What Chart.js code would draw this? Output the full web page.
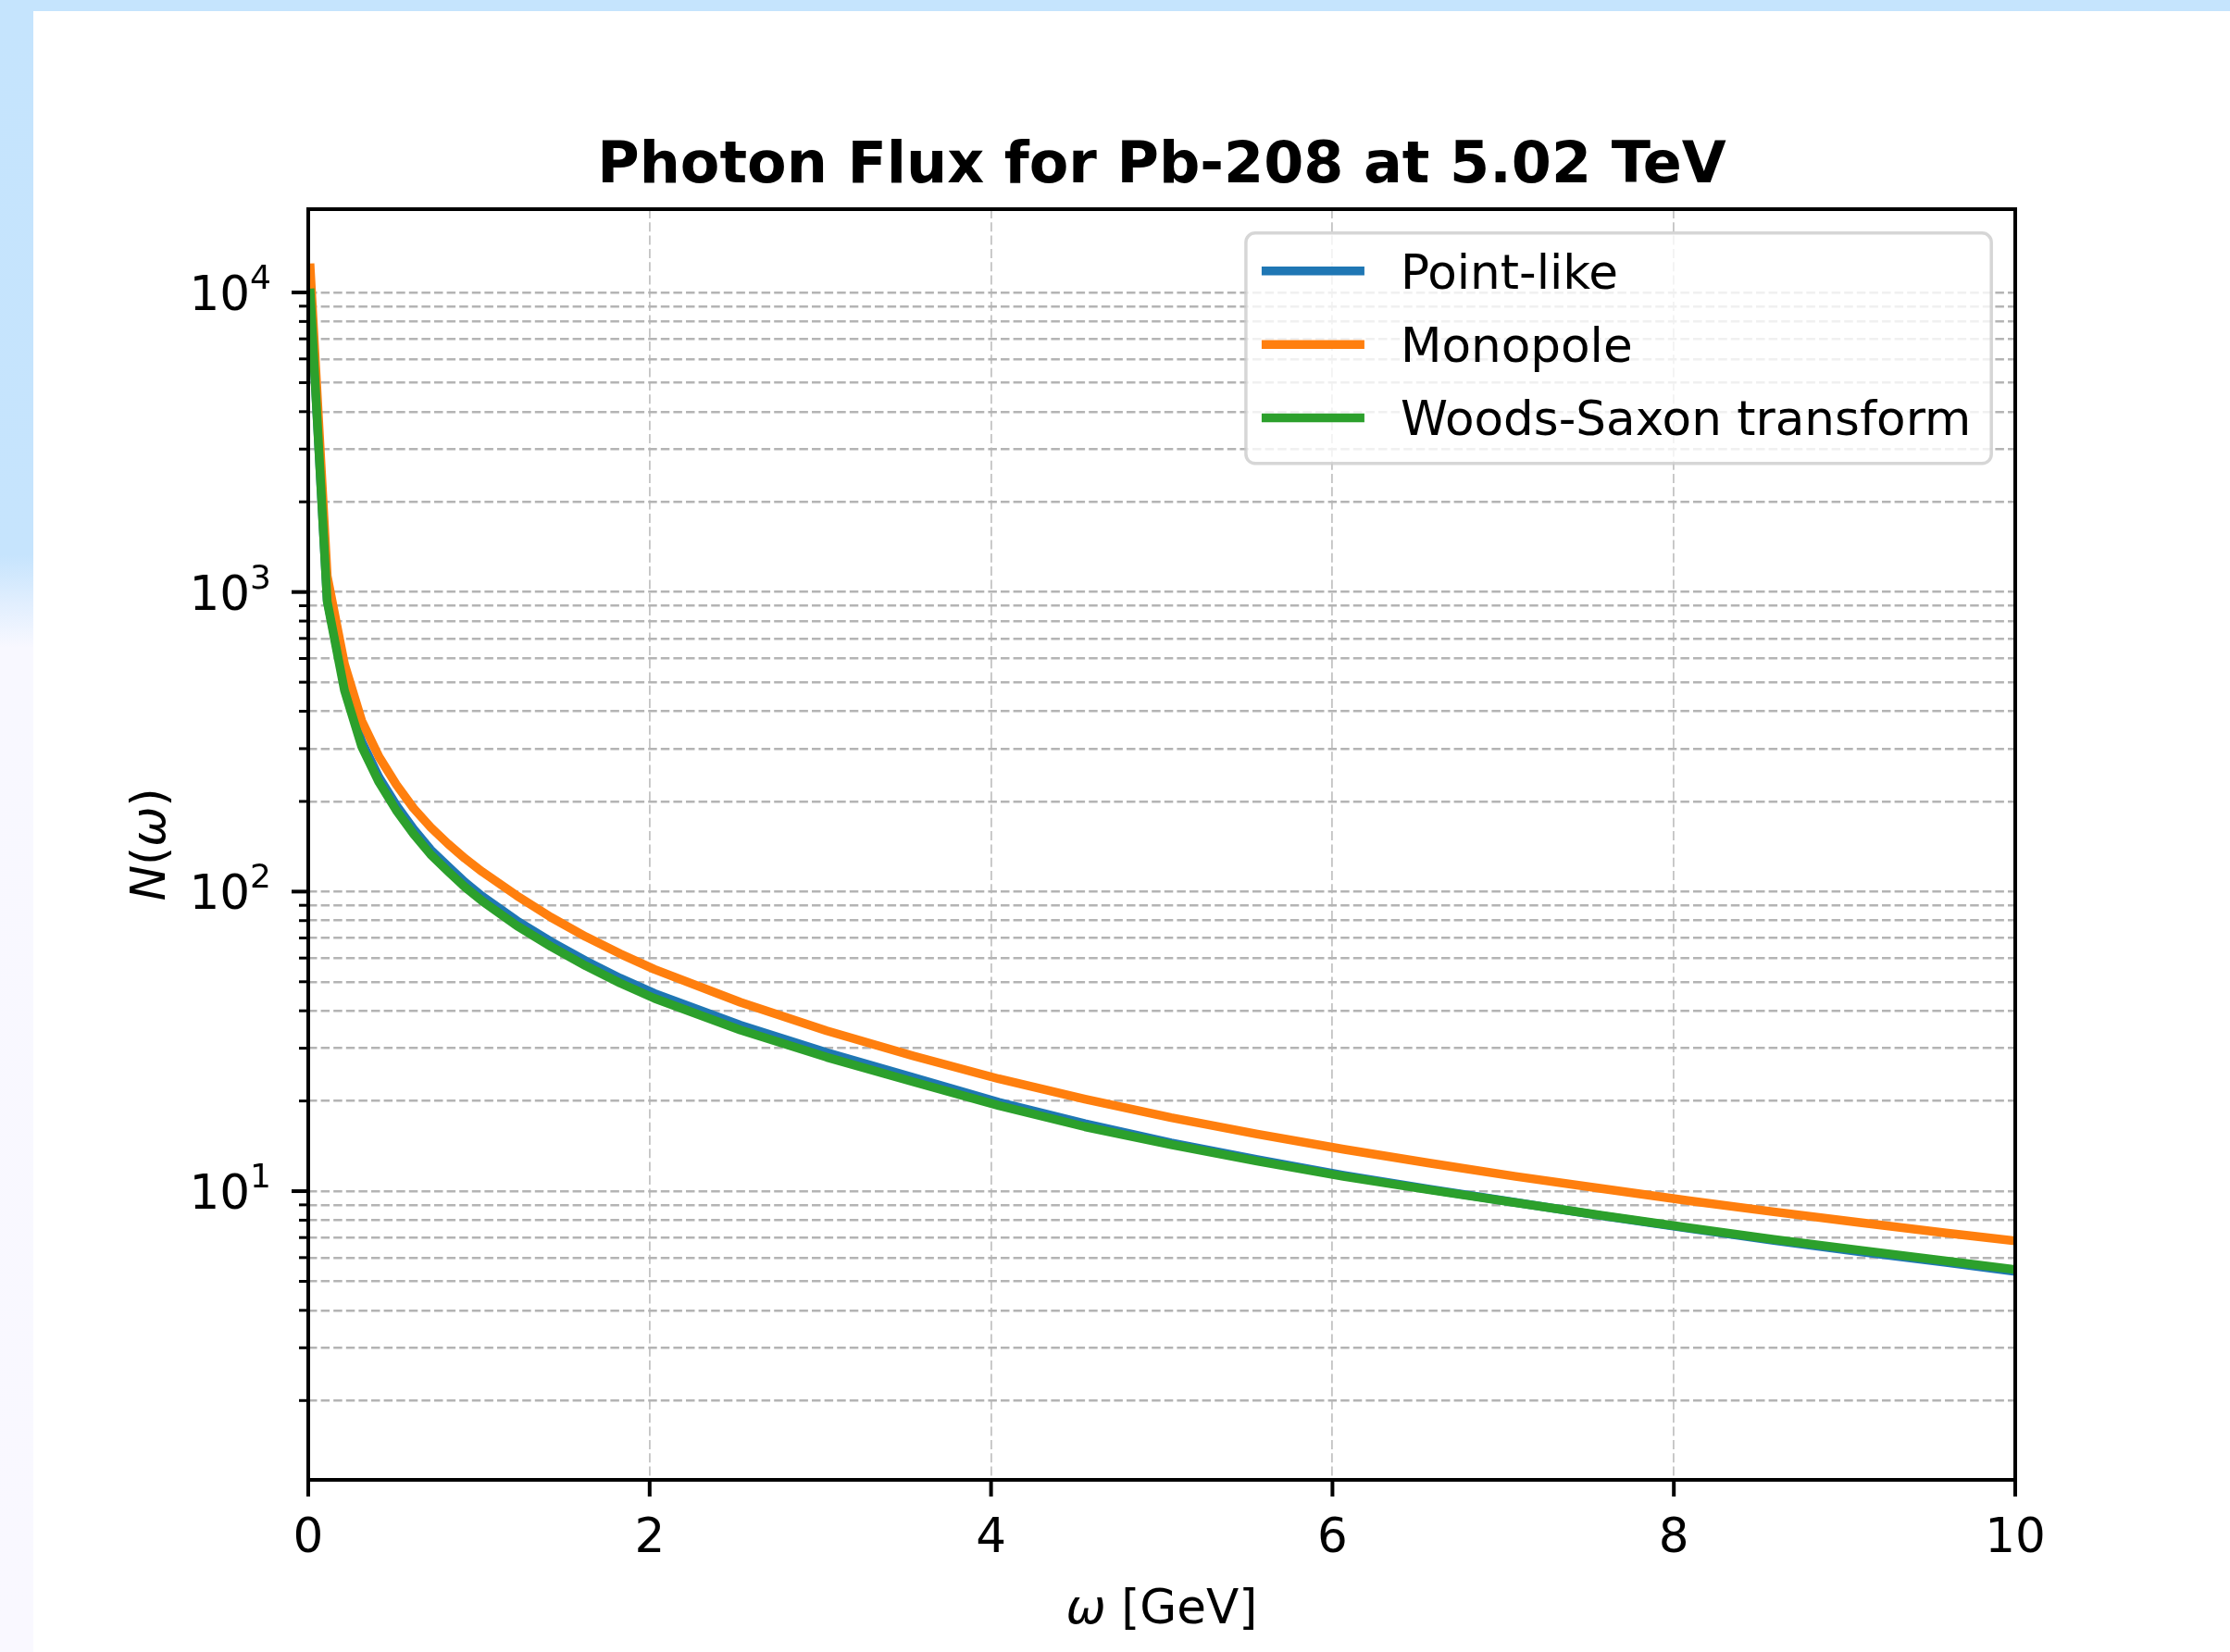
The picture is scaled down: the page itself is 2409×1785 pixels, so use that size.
<!DOCTYPE html>
<html>
<head>
<meta charset="utf-8">
<title>Photon Flux for Pb-208 at 5.02 TeV</title>
<script src="https://cdn.jsdelivr.net/npm/chart.js@4.4.1/dist/chart.umd.min.js"></script>
<style>
  html, body { margin: 0; padding: 0; }
  body {
    width: 2409px; height: 1785px; overflow: hidden;
    background: linear-gradient(to bottom, #c5e4fd 0px, #c6e4fd 600px, #e0eefe 650px, #f8f8ff 700px, #f9f8ff 1785px);
  }
  #figura { position: absolute; left: 36px; top: 12px; width: 2373px; height: 1773px; background: #ffffff; }
</style>
</head>
<body>
<div id="figura"><canvas id="grafico-flusso"></canvas></div>
<script>
// --------------- DATI -----------------------------------------
var omega = [0.01, 0.111, 0.212, 0.313, 0.414, 0.515, 0.616, 0.717, 0.818, 0.918,
             1.019, 1.221, 1.423, 1.625, 1.827, 2.028, 2.532, 3.037, 3.541, 4.046,
             4.550, 5.055, 5.559, 6.064, 6.568, 7.073, 7.577, 8.082, 8.586, 9.091,
             9.595, 10.0];

var pointLike = [10400, 940, 488, 317, 241, 194.5, 162, 138, 121.5, 107.5,
                 96.5, 80, 68, 58.7, 51.4, 45.7, 35.8, 29, 24, 19.8,
                 16.8, 14.5, 12.75, 11.3, 10.15, 9.17, 8.28, 7.52, 6.85, 6.28,
                 5.78, 5.40];

var monopole = [12500, 1130, 575, 372, 282, 228, 190, 164, 144.5, 129,
                116.5, 97, 82, 70.7, 62, 55, 42.7, 34.3, 28.3, 23.7,
                20.3, 17.6, 15.5, 13.8, 12.4, 11.2, 10.2, 9.3, 8.53, 7.85,
                7.25, 6.82];

var woodsSaxon = [10300, 930, 470, 305, 232, 187, 156, 133, 117, 103.5,
                  93, 77, 65.5, 56.5, 49.5, 44, 34.5, 28, 23.2, 19.3,
                  16.4, 14.3, 12.6, 11.2, 10.1, 9.15, 8.3, 7.55, 6.9, 6.35,
                  5.85, 5.47];

var etichetteSerie = ['Point-like', 'Monopole', 'Woods-Saxon transform'];
var coloriSerie = ['#1f77b4', '#ff7f0e', '#2ca02c'];

var tickX = [0, 2, 4, 6, 8, 10];
var decadi = [10, 100, 1000, 10000];
var esponentiDecadi = ['1', '2', '3', '4'];

var yMin = 1.087;
var yMax = 18970;

// --------------- FUNCTIONS ---------------------
function punti(valori) {
    var out = [];
    for (var i = 0; i < omega.length; i++) {
        out.push({x: omega[i], y: valori[i]});
    }
    return out;
}

function taccheY() { // tacche maggiori e minori dell'asse log
    var tacche = [];
    for (var e = 0; e <= 4; e++) {
        for (var m = 1; m <= 9; m++) {
            var v = m * Math.pow(10, e);
            if (v >= yMin && v <= yMax) {
                tacche.push({value: v, major: m === 1});
            }
        }
    }
    return tacche;
}

function scriviPezzi(ctx, pezzi, x, y) { // testo misto centrato su x
    var totale = 0;
    pezzi.forEach(function(p) { ctx.font = p.font; totale += ctx.measureText(p.testo).width; });
    var cx = x - totale / 2;
    pezzi.forEach(function(p) {
        ctx.font = p.font;
        ctx.fillText(p.testo, cx, y);
        cx += ctx.measureText(p.testo).width;
    });
}

var FONT = '"DejaVu Sans"';
var normale = '51.6px ' + FONT;
var corsivo = 'italic 51.6px ' + FONT;
var apice = '36px ' + FONT;
var spessore = 9.5;

var dettagli = {
    id: 'dettagli',
    afterDatasetsDraw: function(chart) {
        var ctx = chart.ctx, a = chart.chartArea;
        ctx.save();
        ctx.strokeStyle = '#000';
        ctx.lineWidth = 4;
        ctx.strokeRect(a.left, a.top, a.right - a.left, a.bottom - a.top);
        ctx.restore();
    },
    afterDraw: function(chart) {
        var ctx = chart.ctx, a = chart.chartArea;
        var sx = chart.scales.x, sy = chart.scales.y;
        ctx.save();
        ctx.strokeStyle = '#000';

        // tacche asse x
        ctx.lineWidth = 4;
        sx.ticks.forEach(function(t) {
            var px = sx.getPixelForValue(t.value);
            ctx.beginPath(); ctx.moveTo(px, a.bottom); ctx.lineTo(px, a.bottom + 18); ctx.stroke();
        });
        // tacche asse y
        sy.ticks.forEach(function(t) {
            var py = sy.getPixelForValue(t.value);
            var l = t.major ? 18 : 10;
            ctx.lineWidth = t.major ? 4 : 3;
            ctx.beginPath(); ctx.moveTo(a.left, py); ctx.lineTo(a.left - l, py); ctx.stroke();
        });

        // etichette asse y: 10 con esponente
        ctx.fillStyle = '#000';
        ctx.textBaseline = 'alphabetic';
        ctx.textAlign = 'left';
        decadi.forEach(function(v, i) {
            var py = sy.getPixelForValue(v);
            var destra = a.left - 40;
            ctx.font = apice;
            var wa = ctx.measureText(esponentiDecadi[i]).width;
            ctx.font = normale;
            var wb = ctx.measureText('10').width;
            ctx.fillText('10', destra - wa - wb, py + 19);
            ctx.font = apice;
            ctx.fillText(esponentiDecadi[i], destra - wa, py - 4);
        });

        // titolo
        ctx.textAlign = 'center';
        ctx.font = 'bold 62px ' + FONT;
        ctx.fillText('Photon Flux for Pb-208 at 5.02 TeV', (a.left + a.right) / 2, a.top - 29);

        // etichette assi
        ctx.textAlign = 'left';
        scriviPezzi(ctx, [{testo: '\u03c9', font: corsivo}, {testo: ' [GeV]', font: normale}],
                    (a.left + a.right) / 2, 1742);
        ctx.save();
        ctx.translate(142, (a.top + a.bottom) / 2);
        ctx.rotate(-Math.PI / 2);
        scriviPezzi(ctx, [{testo: 'N', font: corsivo}, {testo: '(', font: normale},
                          {testo: '\u03c9', font: corsivo}, {testo: ')', font: normale}], 0, 0);
        ctx.restore();

        // legenda
        ctx.font = normale;
        var larghTesto = 0;
        chart.data.datasets.forEach(function(d) {
            larghTesto = Math.max(larghTesto, ctx.measureText(d.label).width);
        });
        var w = 167 + larghTesto + 22;
        var h = 249;
        var right = a.right - 25.8, top = a.top + 25.8, left = right - w;
        ctx.beginPath();
        ctx.roundRect(left, top, w, h, 10);
        ctx.fillStyle = 'rgba(255,255,255,0.8)';
        ctx.fill();
        ctx.lineWidth = 3.5;
        ctx.strokeStyle = 'rgba(204,204,204,0.8)';
        ctx.stroke();
        chart.data.datasets.forEach(function(d, i) {
            var cy = top + 41 + i * 79.4;
            ctx.strokeStyle = d.borderColor;
            ctx.lineWidth = spessore;
            ctx.beginPath(); ctx.moveTo(left + 17, cy); ctx.lineTo(left + 128, cy); ctx.stroke();
            ctx.fillStyle = '#000';
            ctx.fillText(d.label, left + 167, cy + 18.8);
        });
        ctx.restore();
    }
};

function serie(i, valori, ordine) {
    return {
        label: etichetteSerie[i],
        data: punti(valori),
        borderColor: coloriSerie[i],
        backgroundColor: coloriSerie[i],
        borderWidth: spessore,
        pointRadius: 0,
        fill: false,
        tension: 0,
        borderJoinStyle: 'round',
        borderCapStyle: 'butt',
        order: ordine
    };
}

var ctx = document.getElementById('grafico-flusso');
var chart = new Chart(ctx, {
    type: 'line',
    data: {
        datasets: [
            serie(0, pointLike, 3),
            serie(1, monopole, 2),
            serie(2, woodsSaxon, 1)
        ]
    },
    options: {
        responsive: true,
        maintainAspectRatio: false,
        devicePixelRatio: 1,
        animation: false,
        events: [],
        layout: { padding: { top: 214, right: 232, left: 0, bottom: 0 } },
        plugins: {
            legend: { display: false },
            tooltip: { enabled: false },
            title: { display: false }
        },
        scales: {
            x: {
                type: 'linear', min: 0, max: 10,
                afterFit: function(s) { s.height = 186; },
                afterBuildTicks: function(s) { s.ticks = tickX.map(function(v) { return {value: v}; }); },
                ticks: { padding: 34, color: '#000', maxRotation: 0, font: { family: 'DejaVu Sans', size: 51.6 } },
                grid: { color: '#c4c4c4', lineWidth: 1.8, drawTicks: false },
                border: { display: false, dash: [10, 4.3] }
            },
            y: {
                type: 'logarithmic', min: yMin, max: yMax,
                afterFit: function(s) { s.width = 297; },
                afterBuildTicks: function(s) { s.ticks = taccheY(); },
                ticks: { display: false, autoSkip: false },
                grid: { color: '#b4b4b4', lineWidth: 2.6, drawTicks: false },
                border: { display: false, dash: [9.5, 4.1] }
            }
        }
    },
    plugins: [dettagli]
});
</script>
</body>
</html>
